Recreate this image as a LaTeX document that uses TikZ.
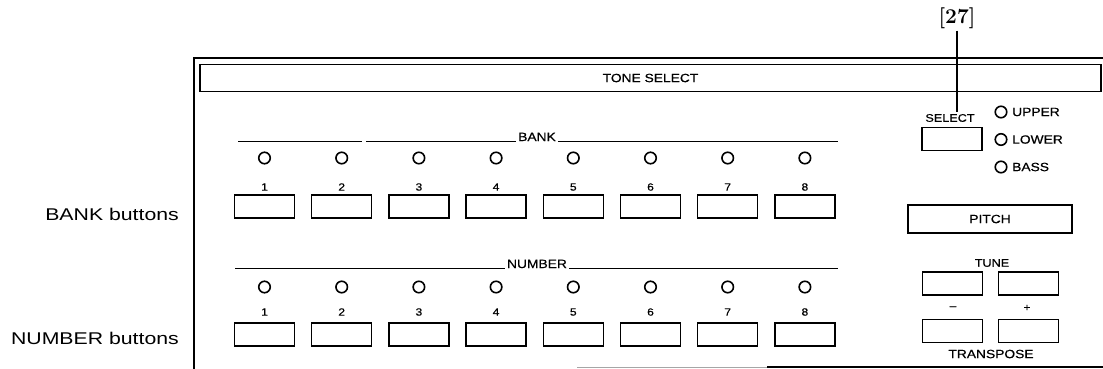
\documentclass[tikz,border=0pt]{standalone}
\usepackage{fontspec}
\newfontfamily\panelfont[FakeStretch=1.15,FakeBold=0.5]{Liberation Sans}
\newfontfamily\sidefont[FakeStretch=1.25]{Liberation Sans}
\usepackage{tikz}

\tikzset{
  key/.style={draw, line width=1.4pt, minimum width=60pt, minimum height=23pt, inner sep=0pt},
  led/.style={circle, draw, line width=1.6pt, minimum size=11.5pt, inner sep=0pt},
  lbl/.style={font=\panelfont\fontsize{12}{12}\selectfont, inner sep=2pt},
  smlbl/.style={font=\panelfont\fontsize{11}{11}\selectfont, inner sep=2pt},
  digit/.style={font=\panelfont\fontsize{10.5}{10.5}\selectfont, inner sep=0pt},
  side/.style={font=\sidefont\fontsize{17}{17}\selectfont, inner sep=0pt},
}

\begin{document}
\begin{tikzpicture}[x=1pt,y=-1pt]
\useasboundingbox (0,0) rectangle (1103,369);
% panel frame
\draw[line width=1.6pt] (194,369) -- (194,58) -- (1103,58);
\draw[line width=0.8pt, black!35] (577,367) -- (767,367);
\draw[line width=1.6pt] (767,367) -- (1103,367);
\node[draw, line width=1.4pt, minimum width=901pt, minimum height=27pt, lbl](tonesel) at (650.5,78) {TONE SELECT};

% bank row
\node[lbl, anchor=base](banklbl) at (537,141) {BANK};
\coordinate (bankA) at (238,141);
\coordinate (bankB) at (362,141);
\coordinate (bankC) at (366,141);
\coordinate (bankD) at (838,141);
\draw[line width=0.9pt] (bankA) -- (bankB) (bankC) -- (banklbl.base west) (banklbl.base east) -- (bankD);
\foreach \i in {1,...,8}{
  \node[key](bank\i) at ({264.5+77.2*(\i-1)},206.5) {};
  \node[digit, above of=bank\i, node distance=19.5pt](bankno\i) {\i};
  \node[led, above of=bank\i, node distance=48.5pt](bankled\i) {};
}

% number row
\node[lbl, anchor=base](numlbl) at (537,268) {NUMBER};
\coordinate (numA) at (235,268);
\coordinate (numB) at (838,268);
\draw[line width=0.9pt] (numA) -- (numlbl.base west) (numlbl.base east) -- (numB);
\foreach \i in {1,...,8}{
  \node[key](num\i) at ({264.5+77.2*(\i-1)},334.5) {};
  \node[digit, above of=num\i, node distance=22.5pt](numno\i) {\i};
  \node[led, above of=num\i, node distance=47.5pt](numled\i) {};
}

% side labels
\node[side, anchor=east](banktxt) at (179,214) {BANK buttons};
\node[side, anchor=east](numtxt) at (179,338) {NUMBER buttons};

% select part
\node[font=\bfseries\fontsize{21}{21}\selectfont, inner sep=2pt](ref27) at (957,18) {[27]};
\node[smlbl](sellbl) at (950,118) {SELECT};
\path (ref27.south) edge [line width=1.3pt] (ref27.south |- sellbl.north);
\node[key](selbtn) at (952,139) {};
\node[led](upled) at (1001,112) {};
\node[led](lowled) at (1001,139.5) {};
\node[led](bassled) at (1001,167) {};
\node[lbl, anchor=west](uplbl) at (1010,112) {UPPER};
\node[lbl, anchor=west](lowlbl) at (1010,139.5) {LOWER};
\node[lbl, anchor=west](basslbl) at (1010,167) {BASS};

% pitch part
\node[key, lbl, minimum width=164pt, minimum height=28pt](pitch) at (990,219) {PITCH};
\node[smlbl](tunelbl) at (992,263) {TUNE};
\node[key](tuneL) at (952.5,283.5) {};
\node[key](tuneR) at (1028.5,283.5) {};
\node[digit](minus) at (953,308) {\textendash};
\node[digit](plus) at (1027,308) {+};
\node[key](transL) at (952.5,331) {};
\node[key](transR) at (1028.5,331) {};
\node[lbl](translbl) at (991,354) {TRANSPOSE};
\end{tikzpicture}
\end{document}
